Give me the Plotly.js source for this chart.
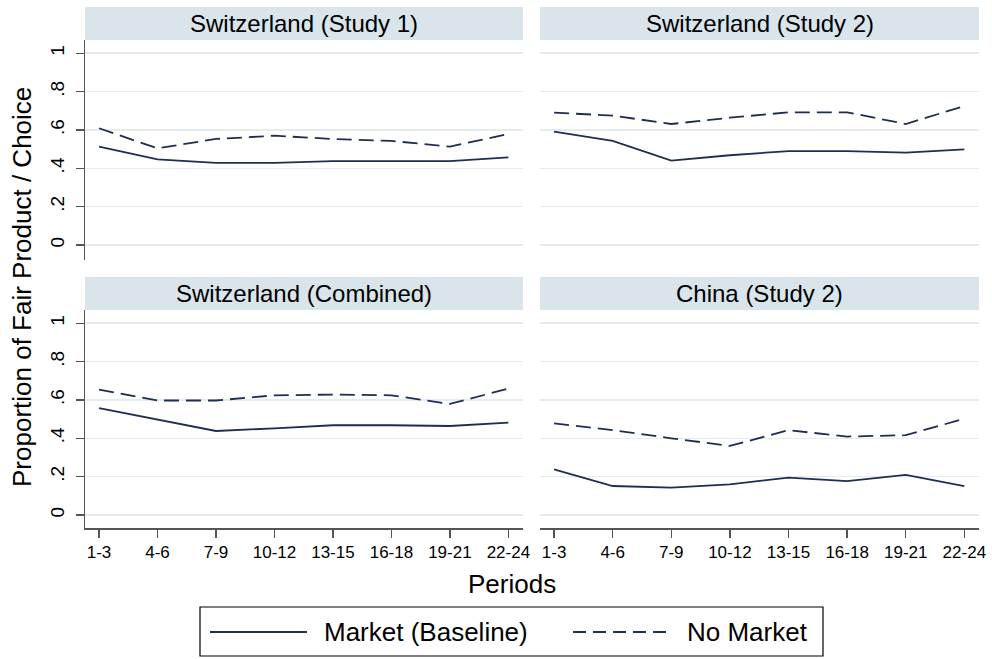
<!DOCTYPE html>
<html>
<head>
<meta charset="utf-8">
<script src="https://cdn.plot.ly/plotly-3.0.1.min.js"></script>
<style>html,body{margin:0;padding:0;background:#fff;}#chart{width:992px;height:659px;}</style>
</head>
<body>
<div id="chart"></div>
<script>
// ---- data ----
const periods = ["1-3","4-6","7-9","10-12","13-15","16-18","19-21","22-24"];
const panelTitles = ["Switzerland (Study 1)","Switzerland (Study 2)","Switzerland (Combined)","China (Study 2)"];
const seriesNames = ["Market (Baseline)","No Market"];

const swiss1Market   = [0.513,0.447,0.428,0.428,0.438,0.438,0.438,0.457];
const swiss1NoMarket = [0.609,0.504,0.553,0.570,0.553,0.543,0.513,0.579];
const swiss2Market   = [0.591,0.543,0.440,0.468,0.490,0.490,0.482,0.499];
const swiss2NoMarket = [0.690,0.675,0.631,0.664,0.692,0.692,0.631,0.725];
const swissCMarket   = [0.557,0.499,0.438,0.452,0.468,0.468,0.464,0.482];
const swissCNoMarket = [0.654,0.597,0.597,0.624,0.628,0.624,0.579,0.659];
const chinaMarket    = [0.238,0.151,0.143,0.160,0.195,0.177,0.209,0.151];
const chinaNoMarket  = [0.478,0.442,0.400,0.360,0.442,0.409,0.416,0.502];

const yTickVals = [0,0.2,0.4,0.6,0.8,1];
const yTickText = ["0",".2",".4",".6",".8","1"];

// ---- styling ----
const W = 992, H = 659;
const FONT = "Liberation Sans, Arial, Helvetica, sans-serif";
const LINE = "#1f2d52";
const GRID = "#e4ecf0";
const STRIP = "#d9e5eb";
const AXIS = "#555555";
const px = x => x / W;
const py = y => (H - y) / H;

const panels = [
  {m: swiss1Market, n: swiss1NoMarket},
  {m: swiss2Market, n: swiss2NoMarket},
  {m: swissCMarket, n: swissCNoMarket},
  {m: chinaMarket,  n: chinaNoMarket}
];

const xDom = [[px(85), px(523)], [px(540), px(979)]];
const yDom = [[py(260), py(40)], [py(528), py(310)]];

const traces = [];
panels.forEach((p, i) => {
  const ax = i === 0 ? "" : String(i + 1);
  traces.push({x: periods, y: p.m, type: "scatter", mode: "lines", name: seriesNames[0],
    xaxis: "x" + ax, yaxis: "y" + ax, showlegend: false, hoverinfo: "skip",
    line: {color: LINE, width: 1.8}});
  traces.push({x: periods, y: p.n, type: "scatter", mode: "lines", name: seriesNames[1],
    xaxis: "x" + ax, yaxis: "y" + ax, showlegend: false, hoverinfo: "skip",
    line: {color: LINE, width: 1.8, dash: "15px,7px"}});
});

const layout = {
  width: W, height: H,
  margin: {l: 0, r: 0, t: 0, b: 0},
  paper_bgcolor: "#ffffff", plot_bgcolor: "#ffffff",
  font: {family: FONT, color: "#000"},
  showlegend: false,
  shapes: [], annotations: []
};

for (let i = 0; i < 4; i++) {
  const row = Math.floor(i / 2), col = i % 2;
  const ax = i === 0 ? "" : String(i + 1);
  const bottom = row === 1, left = col === 0;
  layout["xaxis" + ax] = {
    domain: xDom[col], anchor: "y" + ax, type: "category",
    range: [-0.24, 7.25], fixedrange: true,
    showgrid: false, zeroline: false,
    showline: bottom, linecolor: AXIS, linewidth: 1.5,
    ticks: bottom ? "outside" : "", ticklen: 8, tickwidth: 1.3, tickcolor: AXIS,
    showticklabels: bottom, tickfont: {family: FONT, size: 17, color: "#000"},
    tickvals: periods, ticktext: periods
  };
  layout["yaxis" + ax] = {
    domain: yDom[row], anchor: "x" + ax,
    range: row === 0 ? [-0.078, 1.069] : [-0.068, 1.069], fixedrange: true,
    showgrid: true, gridcolor: GRID, gridwidth: 1.5, zeroline: false,
    showline: left, linecolor: AXIS, linewidth: 1.5,
    ticks: left ? "outside" : "", ticklen: 8, tickwidth: 1.3, tickcolor: AXIS,
    showticklabels: left, tickangle: -90, ticklabelstandoff: 4,
    tickfont: {family: FONT, size: 19, color: "#000"},
    tickvals: yTickVals, ticktext: yTickText
  };
  // strip
  const sx0 = col === 0 ? 85 : 540, sx1 = col === 0 ? 523 : 979;
  const sy0 = row === 0 ? 7 : 277, sy1 = row === 0 ? 40 : 310;
  layout.shapes.push({type: "rect", xref: "paper", yref: "paper",
    x0: px(sx0), x1: px(sx1), y0: py(sy1), y1: py(sy0),
    fillcolor: STRIP, line: {width: 0}, layer: "below"});
  layout.annotations.push({xref: "paper", yref: "paper",
    x: px((sx0 + sx1) / 2), y: py((sy0 + sy1) / 2 + 0.5), xanchor: "center", yanchor: "middle",
    text: panelTitles[i], showarrow: false, font: {family: FONT, size: 24, color: "#000"}});
}

// axis titles
layout.annotations.push({xref: "paper", yref: "paper", x: px(512), y: py(584),
  xanchor: "center", yanchor: "middle", text: "Periods", showarrow: false,
  font: {family: FONT, size: 26, color: "#000"}});
layout.annotations.push({xref: "paper", yref: "paper", x: px(22), y: py(287),
  xanchor: "center", yanchor: "middle", textangle: -90,
  text: "Proportion of Fair Product / Choice", showarrow: false,
  font: {family: FONT, size: 26, color: "#000"}});

// legend (drawn manually to match boxed layout)
layout.shapes.push({type: "rect", xref: "paper", yref: "paper",
  x0: px(200), x1: px(823), y0: py(656), y1: py(607),
  line: {color: "#000", width: 1.2}, fillcolor: "rgba(0,0,0,0)"});
layout.shapes.push({type: "line", xref: "paper", yref: "paper",
  x0: px(210), x1: px(307), y0: py(632), y1: py(632),
  line: {color: LINE, width: 1.8}});
layout.shapes.push({type: "line", xref: "paper", yref: "paper",
  x0: px(573), x1: px(670), y0: py(632), y1: py(632),
  line: {color: LINE, width: 1.8, dash: "13px,7px"}});
layout.annotations.push({xref: "paper", yref: "paper", x: px(322), y: py(632),
  xanchor: "left", yanchor: "middle", text: seriesNames[0], showarrow: false,
  font: {family: FONT, size: 26, color: "#000"}});
layout.annotations.push({xref: "paper", yref: "paper", x: px(685), y: py(632),
  xanchor: "left", yanchor: "middle", text: seriesNames[1], showarrow: false,
  font: {family: FONT, size: 26, color: "#000"}});

Plotly.newPlot("chart", traces, layout, {displayModeBar: false, staticPlot: true});
</script>
</body>
</html>
